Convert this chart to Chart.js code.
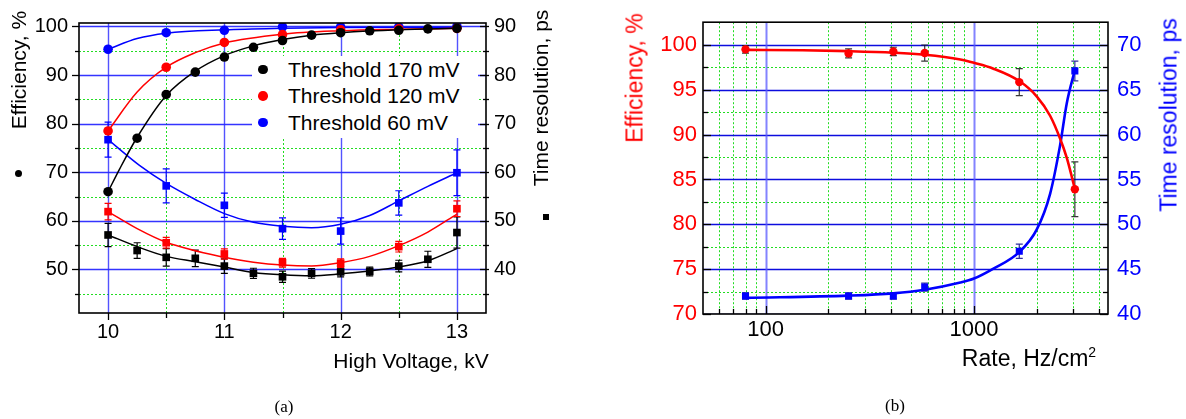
<!DOCTYPE html>
<html>
<head>
<meta charset="utf-8">
<script src="https://cdn.jsdelivr.net/npm/chart.js@4.4.0/dist/chart.umd.min.js"></script>
<style>
html,body{margin:0;padding:0;background:#fff;}
#wrap{position:relative;width:1186px;height:419px;overflow:hidden;font-family:"Liberation Sans",Arial,sans-serif;color:#000;}
.panel{position:absolute;top:0;width:593px;height:419px;}
.t{position:absolute;white-space:nowrap;line-height:1;transform:translate(-50%,-50%);}
.r{transform:translate(-50%,-50%) rotate(-90deg);}
.serif{font-family:"Liberation Serif","Times New Roman",serif;}
#legendA{position:absolute;left:252px;top:56px;width:226px;height:82px;background:#fff;}
.lg-row{display:flex;align-items:center;height:26.67px;}
.lg-mark{display:inline-block;width:9.5px;height:9.5px;border-radius:50%;margin-left:6.3px;}
.lg-text{font-size:21px;line-height:1;margin-left:20.2px;white-space:nowrap;}
.sym{position:absolute;background:#000;}
</style>
</head>
<body>
<div id="wrap">
  <div class="panel" style="left:0"><canvas id="ca"></canvas></div>
  <div class="panel" style="left:593px"><canvas id="cb"></canvas></div>
  <div id="legendA"></div>

  <div class="t r" style="left:18px;top:70px;font-size:21px;">Efficiency, %</div>
  <div class="sym" style="left:14.5px;top:169.5px;width:7px;height:7px;border-radius:50%;"></div>
  <div class="t r" style="left:540px;top:98px;font-size:21px;">Time resolution, ps</div>
  <div class="sym" style="left:542.5px;top:214px;width:6px;height:6px;"></div>
  <div class="t" style="left:411px;top:360px;font-size:21px;">High Voltage, kV</div>
  <div class="t serif" style="left:284px;top:406px;font-size:17px;">(a)</div>

  <div class="t r" style="left:635px;top:78px;font-size:23px;color:#ff0000;">Efficiency, %</div>
  <div class="t r" style="left:1169px;top:115px;font-size:23px;color:#0000ff;">Time resolution, ps</div>
  <div class="t" style="left:1029px;top:358px;font-size:23px;">Rate, Hz/cm<span style="font-size:14px;position:relative;top:-9px;">2</span></div>
  <div class="t serif" style="left:895px;top:405px;font-size:17px;">(b)</div>
</div>
<script>
// ---------------- Panel (a) data ----------------
const hvFull = [10, 10.25, 10.5, 10.75, 11, 11.25, 11.5, 11.75, 12, 12.25, 12.5, 12.75, 13];
const hvHalf = [10, 10.5, 11, 11.5, 12, 12.5, 13];

const eff170 = [66.0, 77.0, 86.0, 90.6, 93.7, 95.7, 97.1, 98.2, 98.7, 99.1, 99.2, 99.5, 99.6];
const eff120 = [78.5, 91.6, 96.7, 98.3, 99.3, 99.5, 99.6];
const eff60  = [95.3, 98.7, 99.2, 99.9, 99.9, 99.9, 100.0];

const tr170    = [47.1, 43.9, 42.5, 42.3, 40.7, 39.2, 38.5, 39.2, 39.5, 39.6, 40.7, 42.1, 47.6];
const tr170Err = [2.4, 1.6, 1.8, 1.7, 1.5, 1.05, 1.15, 1.0, 1.0, 0.9, 1.2, 1.65, 3.2];
const tr120    = [51.9, 45.5, 43.2, 41.4, 41.3, 44.7, 52.5];
const tr120Err = [1.7, 1.1, 1.05, 0.9, 0.9, 1.1, 1.6];
const tr60     = [66.7, 57.2, 53.2, 48.4, 47.9, 53.7, 59.9];
const tr60Err  = [3.6, 3.5, 2.5, 2.2, 2.7, 2.5, 4.7];

// fit curves
const fitEff170Hv = [10, 10.1, 10.25, 10.5, 10.75, 11, 11.25, 11.5, 11.75, 12, 12.5, 13];
const fitEff170   = [66.0, 70.7, 77.2, 85.8, 90.8, 94.0, 96.0, 97.3, 98.2, 98.7, 99.3, 99.6];
const fitEff120Hv = [10, 10.25, 10.5, 10.75, 11, 11.5, 12, 12.5, 13];
const fitEff120   = [78.5, 86.5, 91.6, 94.6, 96.6, 98.4, 99.1, 99.4, 99.6];
const fitEff60Hv  = [10, 10.25, 10.5, 11, 11.5, 12, 13];
const fitEff60    = [95.3, 97.5, 98.6, 99.3, 99.6, 99.75, 99.85];

const fitTr170Hv = hvFull;
const fitTr170   = [47.1, 44.7, 42.7, 41.6, 40.5, 39.4, 38.9, 38.7, 39.1, 39.7, 40.5, 41.8, 44.3];
const fitTr120Hv = [10, 10.25, 10.5, 11, 11.25, 11.5, 11.75, 12, 12.25, 12.5, 12.75, 13];
const fitTr120   = [51.9, 48.4, 45.6, 42.5, 41.5, 40.9, 40.7, 41.4, 42.7, 44.9, 47.7, 51.4];
const fitTr60Hv  = [10, 10.27, 10.5, 10.75, 11, 11.25, 11.5, 11.75, 12, 12.25, 12.5, 12.75, 13];
const fitTr60    = [66.7, 61.4, 57.7, 54.4, 51.5, 49.7, 48.9, 48.6, 49.3, 51.1, 54.1, 57.1, 59.9];

const hvTicks      = [10, 11, 12, 13];
const hvMinor      = [10.5, 11.5, 12.5];
const effTicksA    = [50, 60, 70, 80, 90, 100];
const effMinorA    = [45, 55, 65, 75, 85, 95];
const trTicksA     = [40, 50, 60, 70, 80, 90];
const trMinorA     = [35, 45, 55, 65, 75, 85];

// ---------------- Panel (b) data ----------------
const rate     = [80, 250, 410, 580, 1650, 3050];
const effB     = [99.5, 99.05, 99.27, 99.09, 95.85, 83.9];
const effBErr  = [0.42, 0.5, 0.47, 0.9, 1.5, 3.05];
const trB      = [42.0, 42.0, 42.0, 43.0, 47.0, 67.1];
const trBErr   = [0.35, 0.35, 0.35, 0.45, 0.8, 1.1];

const fitEffBRate = [80, 150, 250, 410, 580, 860, 1000, 1240, 1650, 2000, 2320, 2590, 2790, 3050];
const fitEffB     = [99.45, 99.4, 99.3, 99.13, 98.9, 98.37, 98.0, 97.35, 95.97, 94.27, 92.1, 89.56, 87.4, 83.95];
const fitTrBRate  = [80, 250, 410, 580, 860, 1000, 1240, 1650, 2000, 2320, 2590, 2790, 3050];
const fitTrB      = [41.8, 42.05, 42.3, 42.7, 43.5, 43.95, 45.06, 46.9, 49.4, 53.4, 58.8, 63.5, 67.2];

const rateTicks  = [100, 1000];
const rateMinor  = [60, 70, 80, 90, 200, 300, 400, 500, 600, 700, 800, 900, 2000, 3000, 4000];
const effTicksB  = [70, 75, 80, 85, 90, 95, 100];
const effMinorB  = [72.5, 77.5, 82.5, 87.5, 92.5, 97.5];
const trTicksB   = [40, 45, 50, 55, 60, 65, 70];
const trMinorB   = [42.5, 47.5, 52.5, 57.5, 62.5, 67.5];

// ---------------- helpers ----------------
const FAMILY = '"Liberation Sans", Arial, sans-serif';
Chart.defaults.font.family = FAMILY;
Chart.defaults.color = '#000';

const pts = (xs, ys) => xs.map((x, i) => ({x: x, y: ys[i]}));
const fixedTicks = vals => scale => { scale.ticks = vals.map(v => ({value: v})); };

const gridPlugin = {
  id: 'gridPlus',
  beforeDatasetsDraw(chart, args, o) {
    const {ctx, chartArea: a} = chart;
    const xs = chart.scales.x, ys = chart.scales.y;
    ctx.save();
    ctx.beginPath(); ctx.rect(a.left, a.top, a.width, a.height); ctx.clip();
    const vl = v => { const p = Math.round(xs.getPixelForValue(v)) + 0.5; ctx.beginPath(); ctx.moveTo(p, a.top); ctx.lineTo(p, a.bottom); ctx.stroke(); };
    const hl = v => { const p = Math.round(ys.getPixelForValue(v)) + 0.5; ctx.beginPath(); ctx.moveTo(a.left, p); ctx.lineTo(a.right, p); ctx.stroke(); };
    ctx.lineWidth = 1; ctx.strokeStyle = o.minorColor; ctx.setLineDash(o.minorDash);
    o.xMinor.forEach(vl); o.yMinor.forEach(hl);
    ctx.setLineDash([]);
    ctx.strokeStyle = o.hMajorColor; ctx.lineWidth = o.hMajorWidth; o.yMajor.forEach(hl);
    ctx.strokeStyle = o.vMajorColor; ctx.lineWidth = o.vMajorWidth; o.xMajor.forEach(vl);
    ctx.restore();
    ctx.save();
    chart.data.datasets.forEach((ds, i) => {
      if (!ds.errors) return;
      const sy = chart.scales[ds.yAxisID];
      ctx.strokeStyle = ds.errorColor; ctx.lineWidth = o.errWidth;
      ds.data.forEach((p, j) => {
        const e = ds.errors[j];
        const x = xs.getPixelForValue(p.x);
        const yt = sy.getPixelForValue(p.y + e), yb = sy.getPixelForValue(p.y - e);
        ctx.beginPath();
        ctx.moveTo(x, yt); ctx.lineTo(x, yb);
        ctx.moveTo(x - o.cap, yt); ctx.lineTo(x + o.cap, yt);
        ctx.moveTo(x - o.cap, yb); ctx.lineTo(x + o.cap, yb);
        ctx.stroke();
      });
    });
    ctx.restore();
  },
  afterDatasetsDraw(chart, args, o) {
    const {ctx, chartArea: a} = chart;
    ctx.save();
    ctx.strokeStyle = '#000'; ctx.lineWidth = o.frameWidth;
    ctx.strokeRect(a.left, a.top, a.width, a.height);
    ctx.lineWidth = 1.3;
    o.tickSides.forEach(s => {
      const sc = chart.scales[s.scale];
      const draw = (v, len) => {
        const p = Math.round(sc.getPixelForValue(v)) + 0.5;
        ctx.beginPath();
        if (s.side === 'left') { ctx.moveTo(a.left + s.from, p); ctx.lineTo(a.left + s.from + len, p); }
        else if (s.side === 'right') { ctx.moveTo(a.right - s.from, p); ctx.lineTo(a.right - s.from - len, p); }
        else { ctx.moveTo(p, a.bottom - s.from); ctx.lineTo(p, a.bottom - s.from - len); }
        ctx.stroke();
      };
      s.major.forEach(v => draw(v, s.len[0]));
      s.minor.forEach(v => draw(v, s.len[1]));
    });
    ctx.restore();
  }
};

const htmlLegend = {
  id: 'htmlLegend',
  afterUpdate(chart, args, o) {
    const box = document.getElementById(o.containerID);
    if (!box) return;
    box.innerHTML = '';
    chart.data.datasets.filter(d => d.inLegend).forEach(d => {
      const row = document.createElement('div'); row.className = 'lg-row';
      const m = document.createElement('span'); m.className = 'lg-mark'; m.style.background = d.pointBackgroundColor;
      const t = document.createElement('span'); t.className = 'lg-text'; t.textContent = d.label;
      row.appendChild(m); row.appendChild(t); box.appendChild(row);
    });
  }
};

const pointSet = (label, data, axis, style, r, color, extra) => Object.assign({
  label: label, data: data, yAxisID: axis, showLine: false,
  pointStyle: style, pointRadius: r, pointHoverRadius: r,
  pointBackgroundColor: color, pointBorderColor: color, pointBorderWidth: 0,
  backgroundColor: color, borderColor: color
}, extra || {});
const fitSet = (data, axis, color, w) => ({
  label: 'fit', data: data, yAxisID: axis, showLine: true, pointRadius: 0, pointHoverRadius: 0,
  borderColor: color, backgroundColor: color, borderWidth: w, fill: false,
  cubicInterpolationMode: 'monotone'
});
const axisBase = (extra) => Object.assign({
  bounds: 'data',
  grid: {display: false, drawTicks: false},
  border: {display: false}
}, extra);

// ---------------- Chart (a) ----------------
new Chart(document.getElementById('ca'), {
  type: 'scatter',
  data: { datasets: [
    pointSet('Threshold 170 mV', pts(hvFull, eff170), 'y', 'circle', 4.8, '#000000', {inLegend: true}),
    pointSet('Threshold 120 mV', pts(hvHalf, eff120), 'y', 'circle', 4.8, '#ff0000', {inLegend: true}),
    pointSet('Threshold 60 mV',  pts(hvHalf, eff60),  'y', 'circle', 4.8, '#0000ff', {inLegend: true}),
    pointSet('Time resolution 170 mV', pts(hvFull, tr170), 'y2', 'rect', 5.4, '#000000', {errors: tr170Err, errorColor: '#000000'}),
    pointSet('Time resolution 120 mV', pts(hvHalf, tr120), 'y2', 'rect', 5.4, '#ff0000', {errors: tr120Err, errorColor: '#ff0000'}),
    pointSet('Time resolution 60 mV',  pts(hvHalf, tr60),  'y2', 'rect', 5.4, '#0000ff', {errors: tr60Err, errorColor: '#0000ff'}),
    fitSet(pts(fitEff170Hv, fitEff170), 'y', '#000000', 1.5),
    fitSet(pts(fitEff120Hv, fitEff120), 'y', '#ff0000', 1.5),
    fitSet(pts(fitEff60Hv, fitEff60),   'y', '#0000ff', 1.5),
    fitSet(pts(fitTr170Hv, fitTr170), 'y2', '#000000', 1.5),
    fitSet(pts(fitTr120Hv, fitTr120), 'y2', '#ff0000', 1.5),
    fitSet(pts(fitTr60Hv, fitTr60),   'y2', '#0000ff', 1.5)
  ]},
  options: {
    responsive: true, maintainAspectRatio: false, animation: false, events: [],
    layout: {padding: {top: 13, left: 0, right: 0, bottom: 0}, autoPadding: false},
    plugins: {
      legend: {display: false}, tooltip: {enabled: false},
      htmlLegend: {containerID: 'legendA'},
      gridPlus: {
        xMajor: hvTicks, xMinor: hvMinor, yMajor: effTicksA, yMinor: effMinorA,
        minorColor: '#22dd22', minorDash: [2, 2],
        hMajorColor: 'rgba(30,30,255,0.9)', hMajorWidth: 1.3,
        vMajorColor: 'rgba(40,40,255,0.8)', vMajorWidth: 1.4,
        errWidth: 1.2, cap: 3.5, frameWidth: 1.6,
        tickSides: [
          {side: 'left', scale: 'y', major: effTicksA, minor: effMinorA, from: 0, len: [-7, -4]},
          {side: 'right', scale: 'y2', major: trTicksA, minor: trMinorA, from: -3, len: [9, 6]},
          {side: 'bottom', scale: 'x', major: hvTicks, minor: hvMinor, from: 0, len: [-7, -5]}
        ]
      }
    },
    scales: {
      x: axisBase({type: 'linear', position: 'bottom', min: 9.75, max: 13.25,
        afterFit: s => { s.height = 106; }, afterBuildTicks: fixedTicks(hvTicks),
        ticks: {autoSkip: false, maxRotation: 0, padding: 7, font: {size: 20}, color: '#000', callback: v => String(v)}}),
      y: axisBase({type: 'linear', position: 'left', min: 41.05, max: 100.7,
        afterFit: s => { s.width = 79; }, afterBuildTicks: fixedTicks(effTicksA),
        ticks: {autoSkip: false, padding: 11, font: {size: 20}, color: '#000', callback: v => String(v)}}),
      y2: axisBase({type: 'linear', position: 'right', min: 31.05, max: 90.7,
        afterFit: s => { s.width = 107; }, afterBuildTicks: fixedTicks(trTicksA),
        ticks: {autoSkip: false, padding: 8, font: {size: 20}, color: '#000', callback: v => String(v)}})
    }
  },
  plugins: [gridPlugin, htmlLegend]
});

// ---------------- Chart (b) ----------------
new Chart(document.getElementById('cb'), {
  type: 'scatter',
  data: { datasets: [
    pointSet('Efficiency', pts(rate, effB), 'y', 'circle', 4.2, '#ff0000', {errors: effBErr, errorColor: 'rgba(20,20,20,0.85)'}),
    pointSet('Time resolution', pts(rate, trB), 'y2', 'rect', 5.0, '#0000ff', {errors: trBErr, errorColor: '#3030a0'}),
    fitSet(pts(fitEffBRate, fitEffB), 'y', '#ff0000', 2.6),
    fitSet(pts(fitTrBRate, fitTrB), 'y2', '#0000ff', 2.6)
  ]},
  options: {
    responsive: true, maintainAspectRatio: false, animation: false, events: [],
    layout: {padding: {top: 14, left: 0, right: 0, bottom: 0}, autoPadding: false},
    plugins: {
      legend: {display: false}, tooltip: {enabled: false},
      gridPlus: {
        xMajor: rateTicks, xMinor: rateMinor, yMajor: effTicksB, yMinor: effMinorB,
        minorColor: '#22dd22', minorDash: [2, 2],
        hMajorColor: 'rgba(0,0,220,0.95)', hMajorWidth: 1.3,
        vMajorColor: 'rgba(90,90,255,0.75)', vMajorWidth: 2,
        errWidth: 1.2, cap: 3.5, frameWidth: 1.6,
        tickSides: [
          {side: 'left', scale: 'y', major: effTicksB, minor: effMinorB, from: 0, len: [8, 5]},
          {side: 'right', scale: 'y2', major: trTicksB, minor: trMinorB, from: 0, len: [8, 5]},
          {side: 'bottom', scale: 'x', major: rateTicks, minor: rateMinor, from: 0, len: [8, 5]}
        ]
      }
    },
    scales: {
      x: axisBase({type: 'logarithmic', position: 'bottom', min: 50, max: 4400,
        afterFit: s => { s.height = 105; }, afterBuildTicks: fixedTicks(rateTicks),
        ticks: {autoSkip: false, maxRotation: 0, padding: 3, font: {size: 22}, color: '#000', callback: v => String(v)}}),
      y: axisBase({type: 'linear', position: 'left', min: 70, max: 102.53,
        afterFit: s => { s.width = 110; }, afterBuildTicks: fixedTicks(effTicksB),
        ticks: {autoSkip: false, padding: 6, font: {size: 22}, color: '#ff0000', callback: v => String(v)}}),
      y2: axisBase({type: 'linear', position: 'right', min: 40, max: 72.53,
        afterFit: s => { s.width = 78; }, afterBuildTicks: fixedTicks(trTicksB),
        ticks: {autoSkip: false, padding: 9, font: {size: 22}, color: '#0000ff', callback: v => String(v)}})
    }
  },
  plugins: [gridPlugin]
});
</script>
</body>
</html>
